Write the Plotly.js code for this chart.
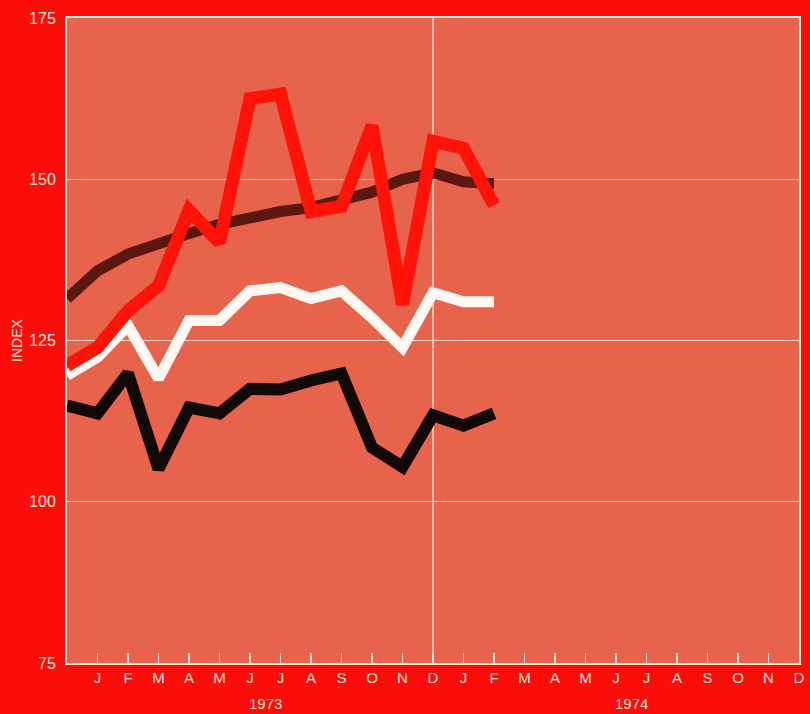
<!DOCTYPE html>
<html>
<head>
<meta charset="utf-8">
<script src="https://cdn.plot.ly/plotly-3.0.1.min.js"></script>
<style>html,body{margin:0;padding:0;background:#fb0d0a;}#chart{width:810px;height:714px;}</style>
</head>
<body>
<div id="chart"></div>
<script>
// Month positions: 0 = Dec 1972 ... 24 = Dec 1974
var monthIndex = [0,1,2,3,4,5,6,7,8,9,10,11,12,13,14];
var tickPositions = [1,2,3,4,5,6,7,8,9,10,11,12,13,14,15,16,17,18,19,20,21,22,23,24];
var tickLabels = ["J","F","M","A","M","J","J","A","S","O","N","D","J","F","M","A","M","J","J","A","S","O","N","D"];
var yTicks = [75,100,125,150,175];
var yearLabels = ["1973","1974"];
var yearCenters = [6.5,18.5];

var brownSeries = [131.5,135.8,138.4,140.1,141.6,143.0,144.2,145.0,145.6,146.8,148.0,150.0,151.0,149.6,149.3];
var whiteSeries = [119.6,122.4,127.3,119.1,128.1,128.1,132.7,133.2,131.5,132.7,128.5,123.9,132.4,131.0,131.0];
var blackSeries = [114.9,113.7,119.9,105.1,114.6,113.7,117.5,117.4,118.8,119.9,108.4,105.4,113.4,111.8,113.7];
var redSeries   = [121.1,123.9,129.6,133.5,145.2,140.2,162.5,163.2,145.0,145.8,158.3,130.6,155.9,154.8,146.0];

var traces = [
  {x: monthIndex, y: brownSeries, mode: 'lines', line: {color: '#5a1810', width: 11}, hoverinfo: 'skip'},
  {x: monthIndex, y: whiteSeries, mode: 'lines', line: {color: '#fff8f2', width: 11}, hoverinfo: 'skip'},
  {x: monthIndex, y: blackSeries, mode: 'lines', line: {color: '#120806', width: 12}, hoverinfo: 'skip'},
  {x: monthIndex, y: redSeries,   mode: 'lines', line: {color: '#ff1208', width: 13}, hoverinfo: 'skip'}
];

var annotations = yearLabels.map(function(t, i){
  return {x: yearCenters[i], xref: 'x', y: 0, yref: 'paper', yanchor: 'top', yshift: -30,
          text: t, showarrow: false, font: {family: 'Liberation Sans, Arial, sans-serif', size: 15, color: '#fbe2d4'}};
});

var layout = {
  width: 810, height: 714,
  margin: {l: 67, r: 11, t: 18, b: 51},
  paper_bgcolor: '#fb0d0a',
  plot_bgcolor: '#e8634c',
  showlegend: false,
  font: {family: 'Liberation Sans, Arial, sans-serif', color: '#fbe2d4'},
  xaxis: {
    range: [0, 24], tickvals: tickPositions, ticktext: tickLabels,
    ticks: 'inside', ticklen: 10, tickwidth: 1.5, tickcolor: '#fbe6da',
    showgrid: false, zeroline: false,
    showline: true, mirror: true, linecolor: '#fbe6da', linewidth: 2,
    tickfont: {size: 15, color: '#fbe2d4'}, fixedrange: true
  },
  yaxis: {
    range: [75, 175], tickvals: yTicks,
    ticks: '', showgrid: true, gridcolor: '#f7d6c8', gridwidth: 1, zeroline: false,
    showline: true, mirror: true, linecolor: '#fbe6da', linewidth: 2,
    tickfont: {size: 16, color: '#fbe2d4'}, ticklabelstandoff: 6,
    title: {text: 'INDEX', font: {size: 14, color: '#fbe2d4'}, standoff: 3}, fixedrange: true
  },
  shapes: [
    {type: 'line', xref: 'x', yref: 'paper', x0: 12, x1: 12, y0: 0, y1: 1, line: {color: '#f9e0d4', width: 1.3}, layer: 'below'}
  ],
  annotations: annotations
};

Plotly.newPlot('chart', traces, layout, {displayModeBar: false, staticPlot: true});
</script>
</body>
</html>
